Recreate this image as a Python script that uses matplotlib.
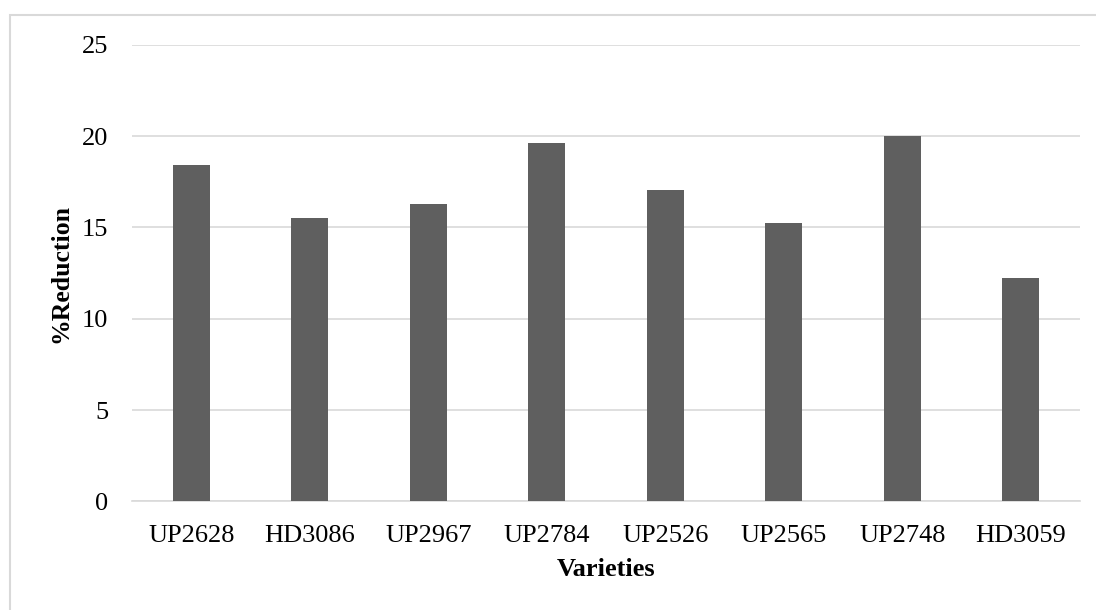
import matplotlib
matplotlib.use("Agg")
import matplotlib.pyplot as plt
from matplotlib.patches import Rectangle

varieties = ["UP2628", "HD3086", "UP2967", "UP2784", "UP2526", "UP2565", "UP2748", "HD3059"]
reduction = [18.41, 15.52, 16.26, 19.62, 17.03, 15.22, 20.0, 12.23]
y_ticks = [0, 5, 10, 15, 20, 25]

plt.rcParams["font.family"] = ["Liberation Serif", "DejaVu Serif"]

fig = plt.figure(figsize=(10.96, 6.10), dpi=100)
ax = fig.add_axes([132 / 1096, 108.6 / 610, 948 / 1096, 456.6 / 610])

# light chart-area border running off the right and bottom edges
fig.patches.append(Rectangle((10 / 1096, -0.05), 1.2, (610 - 15) / 610 + 0.05,
                             transform=fig.transFigure, fill=False,
                             edgecolor="#d9d9d9", linewidth=1.5))

x = range(len(varieties))
ax.bar(x, reduction, width=0.31, color="#5f5f5f", zorder=3)

ax.set_xlim(-0.5, len(varieties) - 0.5)
ax.set_ylim(0, 25)
ax.set_yticks(y_ticks)
ax.set_xticks(list(x))
ax.set_xticklabels(varieties)

ax.grid(axis="y", color="#d9d9d9", linewidth=1.2, zorder=0)
ax.set_axisbelow(True)
for side in ["top", "right", "left"]:
    ax.spines[side].set_visible(False)
ax.spines["bottom"].set_color("#d9d9d9")
ax.spines["bottom"].set_linewidth(1.2)

ax.tick_params(axis="both", length=0, labelsize=19, colors="#000000")
ax.tick_params(axis="y", pad=17)
ax.tick_params(axis="x", pad=17)

ax.set_ylabel("%Reduction", fontsize=18.5, fontweight="bold", labelpad=7)
ax.set_xlabel("Varieties", fontsize=19, fontweight="bold", labelpad=8)

fig.savefig("out.png", dpi=100, facecolor="white")
